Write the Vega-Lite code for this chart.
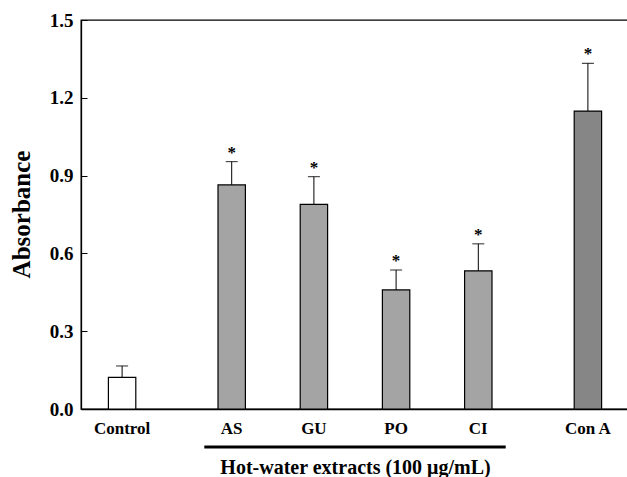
{
  "$schema": "https://vega.github.io/schema/vega-lite/v6.json",
  "width": 548,
  "height": 389,
  "autosize": "none",
  "padding": {"left": 81, "top": 20, "right": 0, "bottom": 68},
  "background": "white",
  "config": {
    "view": {"stroke": "black", "strokeWidth": 1.3},
    "font": "Liberation Serif"
  },
  "datasets": {
    "bars": [
      {"group": "Control", "absorbance": 0.122, "upper": 0.166, "sig": ""},
      {"group": "AS", "absorbance": 0.864, "upper": 0.954, "sig": "*"},
      {"group": "GU", "absorbance": 0.789, "upper": 0.896, "sig": "*"},
      {"group": "PO", "absorbance": 0.459, "upper": 0.536, "sig": "*"},
      {"group": "CI", "absorbance": 0.533, "upper": 0.637, "sig": "*"},
      {"group": "Con A", "absorbance": 1.149, "upper": 1.333, "sig": "*"}
    ],
    "bracket": [
      {"group": "s3", "group_end": "s14", "level": -0.147}
    ]
  },
  "encoding": {
    "x": {
      "field": "group",
      "type": "nominal",
      "sort": null,
      "scale": {
        "domain": ["Control", "s1", "s2", "s3", "AS", "s5", "s6", "GU", "s8", "s9", "PO", "s11", "s12", "CI", "s14", "s15", "s16", "Con A"],
        "paddingInner": 0,
        "paddingOuter": 1.447
      },
      "axis": {
        "title": "Hot-water extracts (100 μg/mL)",
        "titleFont": "Liberation Serif",
        "titleFontSize": 20,
        "titleFontWeight": "bold",
        "titleColor": "black",
        "titleBaseline": "alphabetic",
        "titleY": 64,
        "labelExpr": "indexof(['Control','AS','GU','PO','CI','Con A'], datum.value) >= 0 ? datum.value : ''",
        "labelAngle": 0,
        "labelFont": "Liberation Serif",
        "labelFontSize": 17,
        "labelFontWeight": "bold",
        "labelColor": "black",
        "labelPadding": 11,
        "ticks": false,
        "domainColor": "black",
        "domainWidth": 1.3,
        "grid": false
      }
    }
  },
  "layer": [
    {
      "data": {"name": "bars"},
      "mark": {"type": "bar", "stroke": "black", "strokeWidth": 1.2, "width": {"band": 1}},
      "encoding": {
        "y": {
          "field": "absorbance",
          "type": "quantitative",
          "scale": {"domain": [0, 1.5], "nice": false, "zero": true},
          "axis": {
            "title": "Absorbance",
            "titleFont": "Liberation Serif",
            "titleFontSize": 25,
            "titleFontWeight": "bold",
            "titleColor": "black",
            "titleX": -52,
            "titleY": 194,
            "titleAngle": -90,
            "titleBaseline": "alphabetic",
            "titleAlign": "center",
            "values": [0, 0.3, 0.6, 0.9, 1.2, 1.5],
            "format": ".1f",
            "labelFont": "Liberation Serif",
            "labelFontSize": 19,
            "labelFontWeight": "bold",
            "labelColor": "black",
            "tickSize": -6,
            "tickColor": "black",
            "labelPadding": 14,
            "domainColor": "black",
            "domainWidth": 1.3,
            "grid": false
          }
        },
        "fill": {
          "field": "group",
          "type": "nominal",
          "scale": {
            "domain": ["Control", "AS", "GU", "PO", "CI", "Con A"],
            "range": ["#ffffff", "#a4a4a4", "#a4a4a4", "#a4a4a4", "#a4a4a4", "#868686"]
          },
          "legend": null
        }
      }
    },
    {
      "data": {"name": "bars"},
      "mark": {"type": "rule", "color": "black", "strokeWidth": 1},
      "encoding": {
        "y": {"field": "absorbance", "type": "quantitative"},
        "y2": {"field": "upper"}
      }
    },
    {
      "data": {"name": "bars"},
      "mark": {"type": "tick", "color": "black", "thickness": 1.2, "size": 12},
      "encoding": {
        "y": {"field": "upper", "type": "quantitative"}
      }
    },
    {
      "data": {"name": "bars"},
      "mark": {"type": "text", "font": "Liberation Serif", "fontSize": 17, "fontWeight": "bold", "baseline": "alphabetic", "dy": -4, "color": "black"},
      "encoding": {
        "y": {"field": "upper", "type": "quantitative"},
        "text": {"field": "sig"}
      }
    },
    {
      "data": {"name": "bracket"},
      "mark": {"type": "rule", "color": "black", "strokeWidth": 3, "clip": false},
      "encoding": {
        "x2": {"field": "group_end"},
        "y": {"field": "level", "type": "quantitative"}
      }
    }
  ]
}
